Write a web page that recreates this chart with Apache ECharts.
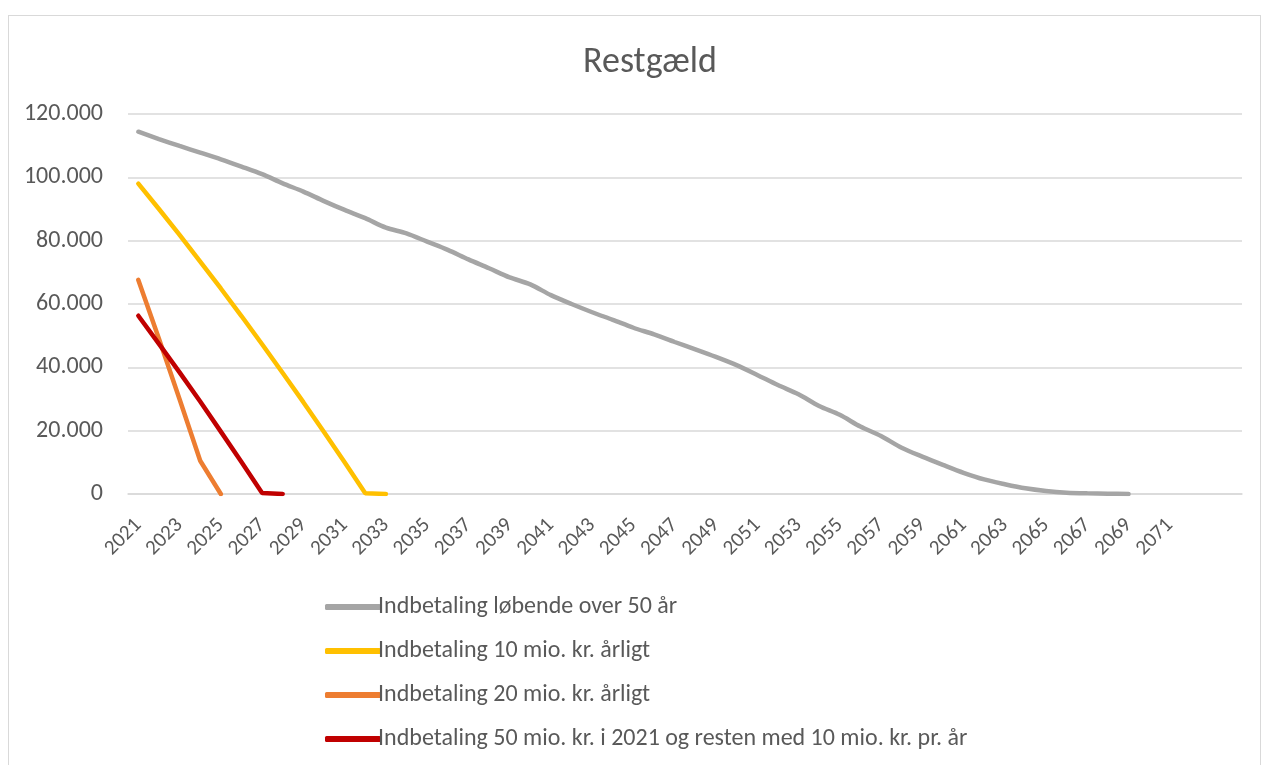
<!DOCTYPE html>
<html lang="da">
<head>
    <meta charset="UTF-8">
    <title>Restgæld</title>
    <script src="https://cdn.jsdelivr.net/npm/echarts@6/dist/echarts.min.js"></script>
    <style>
        body { margin: 0; background: #fff; }
        #frame { position: absolute; left: 8px; top: 15px; width: 1253px; height: 760px; border: 1px solid #d9d9d9; box-sizing: border-box; }
        #main { position: absolute; left: 0; top: 0; width: 1269px; height: 765px; }
    </style>
</head>
<body>
<div id="frame"></div>
<div id="main"></div>
<script>
    // years (three empty categories at the end, as in the source sheet)
    var years = [];
    for (var y = 2021; y <= 2071; y++) years.push(String(y));
    years.push('', '', '');

    var loebende = [114400, 112100, 109900, 107800, 105700, 103400, 101000, 98100, 95500, 92500,
        89700, 87100, 84100, 82300, 79700, 77100, 74100, 71300, 68400, 66200,
        62800, 60000, 57400, 55000, 52500, 50400, 48000, 45700, 43300, 40700,
        37600, 34400, 31500, 27800, 25000, 21300, 18300, 14600, 11800, 9200,
        6700, 4600, 3100, 1800, 950, 420, 200, 100, 0];
    var aarlig10 = [98000, 90000, 81800, 73400, 64900, 56200, 47300, 38200, 29000, 19600, 10000, 200, 0];
    var aarlig20 = [67600, 49000, 29900, 10500, 0];
    var engang50 = [56300, 47400, 38400, 29200, 19700, 10100, 350, 0];

    var names = [
        'Indbetaling løbende over 50 år',
        'Indbetaling 10 mio. kr. årligt',
        'Indbetaling 20 mio. kr. årligt',
        'Indbetaling 50 mio. kr. i 2021 og resten med 10 mio. kr. pr. år'
    ];
    var colors = ['#A5A5A5', '#FFC000', '#ED7D31', '#C00000'];

    var font = 'Carlito, Calibri, "Liberation Sans Narrow", "Open Sans", sans-serif';
    var myChart = echarts.init(document.getElementById('main'));

    function line(i, data, smooth) {
        return {
            name: names[i],
            type: 'line',
            data: data,
            smooth: smooth,
            symbol: 'none',
            lineStyle: { width: 4.5, color: colors[i], cap: 'round' },
            itemStyle: { color: colors[i] }
        };
    }

    var option = {
        animation: false,
        textStyle: { fontFamily: font },
        title: {
            text: 'Restgæld',
            left: 645,
            textAlign: 'center',
            top: 40,
            textStyle: { fontSize: 36, fontWeight: 'normal', color: '#595959', fontFamily: font }
        },
        grid: { left: 128, right: 27, top: 114, bottom: 271, containLabel: false },
        legend: {
            orient: 'vertical',
            left: 320,
            top: 590,
            itemGap: 20,
            itemWidth: 56,
            itemHeight: 6,
            icon: 'roundRect',
            textStyle: { fontSize: 24, color: '#595959', fontFamily: font, padding: [0, 0, 0, -8] },
            data: names
        },
        xAxis: {
            type: 'category',
            data: years,
            boundaryGap: true,
            axisLine: { lineStyle: { color: '#d9d9d9', width: 1.5 } },
            axisTick: { show: false },
            axisLabel: {
                interval: 1,
                rotate: 45,
                fontSize: 21,
                color: '#595959',
                margin: 28,
                fontFamily: font
            }
        },
        yAxis: {
            type: 'value',
            min: 0,
            max: 120000,
            interval: 20000,
            axisLine: { show: false },
            axisTick: { show: false },
            splitLine: { lineStyle: { color: '#d9d9d9', width: 1.5 } },
            axisLabel: {
                fontSize: 24,
                color: '#595959',
                margin: 25,
                fontFamily: font,
                formatter: function (v) {
                    return v === 0 ? '0' : String(v).replace(/\B(?=(\d{3})+(?!\d))/g, '.');
                }
            }
        },
        series: [
            line(0, loebende, 0.3),
            line(1, aarlig10, false),
            line(2, aarlig20, false),
            line(3, engang50, false)
        ]
    };
    myChart.setOption(option);
</script>
</body>
</html>
